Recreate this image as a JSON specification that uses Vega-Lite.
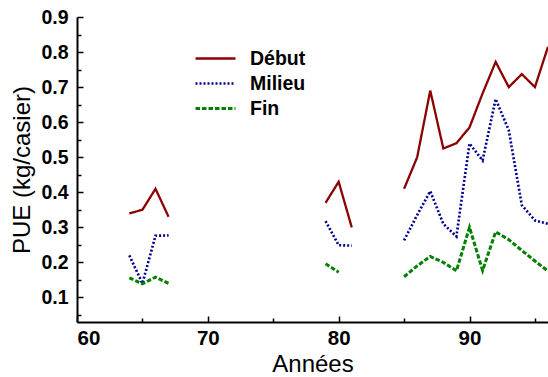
{
  "$schema": "https://vega.github.io/schema/vega-lite/v6.json",
  "width": 471,
  "height": 305,
  "autosize": "none",
  "padding": {"left": 77, "top": 17, "right": 0, "bottom": 55},
  "background": "white",
  "config": {
    "view": {"stroke": null},
    "font": "Liberation Sans",
    "axis": {
      "domainColor": "black", "domainWidth": 2, "tickColor": "black", "tickWidth": 1.5,
      "labelFont": "Liberation Sans", "labelFontWeight": "bold", "labelFontSize": 19.5, "labelColor": "black",
      "titleFont": "Liberation Sans", "titleFontWeight": "normal", "titleFontSize": 24, "titleColor": "black",
      "grid": false
    },
    "legend": {"labelFont": "Liberation Sans"}
  },
  "data": {"values": [
    {"annee": 64, "pue": 0.34, "serie": "Début", "seg": 1},
    {"annee": 65, "pue": 0.35, "serie": "Début", "seg": 1},
    {"annee": 66, "pue": 0.41, "serie": "Début", "seg": 1},
    {"annee": 67, "pue": 0.33, "serie": "Début", "seg": 1},
    {"annee": 79, "pue": 0.37, "serie": "Début", "seg": 2},
    {"annee": 80, "pue": 0.43, "serie": "Début", "seg": 2},
    {"annee": 81, "pue": 0.30, "serie": "Début", "seg": 2},
    {"annee": 85, "pue": 0.41, "serie": "Début", "seg": 3},
    {"annee": 86, "pue": 0.50, "serie": "Début", "seg": 3},
    {"annee": 87, "pue": 0.69, "serie": "Début", "seg": 3},
    {"annee": 88, "pue": 0.525, "serie": "Début", "seg": 3},
    {"annee": 89, "pue": 0.54, "serie": "Début", "seg": 3},
    {"annee": 90, "pue": 0.585, "serie": "Début", "seg": 3},
    {"annee": 91, "pue": 0.682, "serie": "Début", "seg": 3},
    {"annee": 92, "pue": 0.772, "serie": "Début", "seg": 3},
    {"annee": 93, "pue": 0.70, "serie": "Début", "seg": 3},
    {"annee": 94, "pue": 0.737, "serie": "Début", "seg": 3},
    {"annee": 95, "pue": 0.70, "serie": "Début", "seg": 3},
    {"annee": 96, "pue": 0.815, "serie": "Début", "seg": 3},
    {"annee": 64, "pue": 0.22, "serie": "Milieu", "seg": 1},
    {"annee": 65, "pue": 0.14, "serie": "Milieu", "seg": 1},
    {"annee": 66, "pue": 0.276, "serie": "Milieu", "seg": 1},
    {"annee": 67, "pue": 0.277, "serie": "Milieu", "seg": 1},
    {"annee": 79, "pue": 0.318, "serie": "Milieu", "seg": 2},
    {"annee": 80, "pue": 0.249, "serie": "Milieu", "seg": 2},
    {"annee": 81, "pue": 0.248, "serie": "Milieu", "seg": 2},
    {"annee": 85, "pue": 0.263, "serie": "Milieu", "seg": 3},
    {"annee": 86, "pue": 0.335, "serie": "Milieu", "seg": 3},
    {"annee": 87, "pue": 0.403, "serie": "Milieu", "seg": 3},
    {"annee": 88, "pue": 0.31, "serie": "Milieu", "seg": 3},
    {"annee": 89, "pue": 0.274, "serie": "Milieu", "seg": 3},
    {"annee": 90, "pue": 0.539, "serie": "Milieu", "seg": 3},
    {"annee": 91, "pue": 0.491, "serie": "Milieu", "seg": 3},
    {"annee": 92, "pue": 0.666, "serie": "Milieu", "seg": 3},
    {"annee": 93, "pue": 0.577, "serie": "Milieu", "seg": 3},
    {"annee": 94, "pue": 0.363, "serie": "Milieu", "seg": 3},
    {"annee": 95, "pue": 0.32, "serie": "Milieu", "seg": 3},
    {"annee": 96, "pue": 0.31, "serie": "Milieu", "seg": 3},
    {"annee": 64, "pue": 0.156, "serie": "Fin", "seg": 1},
    {"annee": 65, "pue": 0.139, "serie": "Fin", "seg": 1},
    {"annee": 66, "pue": 0.158, "serie": "Fin", "seg": 1},
    {"annee": 67, "pue": 0.14, "serie": "Fin", "seg": 1},
    {"annee": 79, "pue": 0.196, "serie": "Fin", "seg": 2},
    {"annee": 80, "pue": 0.172, "serie": "Fin", "seg": 2},
    {"annee": 85, "pue": 0.159, "serie": "Fin", "seg": 3},
    {"annee": 86, "pue": 0.19, "serie": "Fin", "seg": 3},
    {"annee": 87, "pue": 0.217, "serie": "Fin", "seg": 3},
    {"annee": 88, "pue": 0.20, "serie": "Fin", "seg": 3},
    {"annee": 89, "pue": 0.176, "serie": "Fin", "seg": 3},
    {"annee": 90, "pue": 0.30, "serie": "Fin", "seg": 3},
    {"annee": 91, "pue": 0.177, "serie": "Fin", "seg": 3},
    {"annee": 92, "pue": 0.287, "serie": "Fin", "seg": 3},
    {"annee": 93, "pue": 0.265, "serie": "Fin", "seg": 3},
    {"annee": 94, "pue": 0.234, "serie": "Fin", "seg": 3},
    {"annee": 95, "pue": 0.204, "serie": "Fin", "seg": 3},
    {"annee": 96, "pue": 0.175, "serie": "Fin", "seg": 3}
  ]},
  "mark": {"type": "line", "clip": true},
  "encoding": {
    "x": {
      "field": "annee", "type": "quantitative",
      "scale": {"domain": [60, 96], "nice": false, "zero": false},
      "axis": {
        "title": "Années",
        "values": [60, 65, 70, 75, 80, 85, 90, 95],
        "labelExpr": "datum.value % 10 === 0 ? datum.label : ''",
        "tickSize": {"condition": {"test": "datum.value % 10 === 0", "value": -6}, "value": -4},
        "labelFontSize": 20.5,
        "labelPadding": 12, "titlePadding": 4
      }
    },
    "y": {
      "field": "pue", "type": "quantitative",
      "scale": {"domain": [0.03, 0.9], "nice": false, "zero": false},
      "axis": {
        "title": "PUE (kg/casier)",
        "values": [0.05, 0.1, 0.15, 0.2, 0.25, 0.3, 0.35, 0.4, 0.45, 0.5, 0.55, 0.6, 0.65, 0.7, 0.75, 0.8, 0.85, 0.9],
        "labelExpr": "round(datum.value * 20) % 2 === 0 ? format(datum.value, '.1f') : ''",
        "tickSize": {"condition": {"test": "round(datum.value * 20) % 2 === 0", "value": -6}, "value": -4},
        "labelPadding": 15, "titlePadding": 6
      }
    },
    "color": {
      "field": "serie", "type": "nominal",
      "scale": {"domain": ["Début", "Milieu", "Fin"], "range": ["#8b0000", "#00008b", "#008000"]},
      "legend": {
        "title": null, "orient": "none", "legendX": 117, "legendY": 29,
        "symbolType": "stroke", "symbolSize": 1600,
        "labelFont": "Liberation Sans", "labelFontWeight": "bold", "labelFontSize": 19.5, "labelColor": "black",
        "labelOffset": 13, "rowPadding": 0, "clipHeight": 25, "padding": 0
      }
    },
    "strokeDash": {
      "field": "serie", "type": "nominal",
      "scale": {"domain": ["Début", "Milieu", "Fin"], "range": [[1, 0], [2, 2], [4.5, 2]]},
      "legend": null
    },
    "strokeWidth": {
      "field": "serie", "type": "nominal",
      "scale": {"domain": ["Début", "Milieu", "Fin"], "range": [2.3, 3, 3.5]},
      "legend": null
    },
    "detail": {"field": "seg", "type": "nominal"}
  }
}
